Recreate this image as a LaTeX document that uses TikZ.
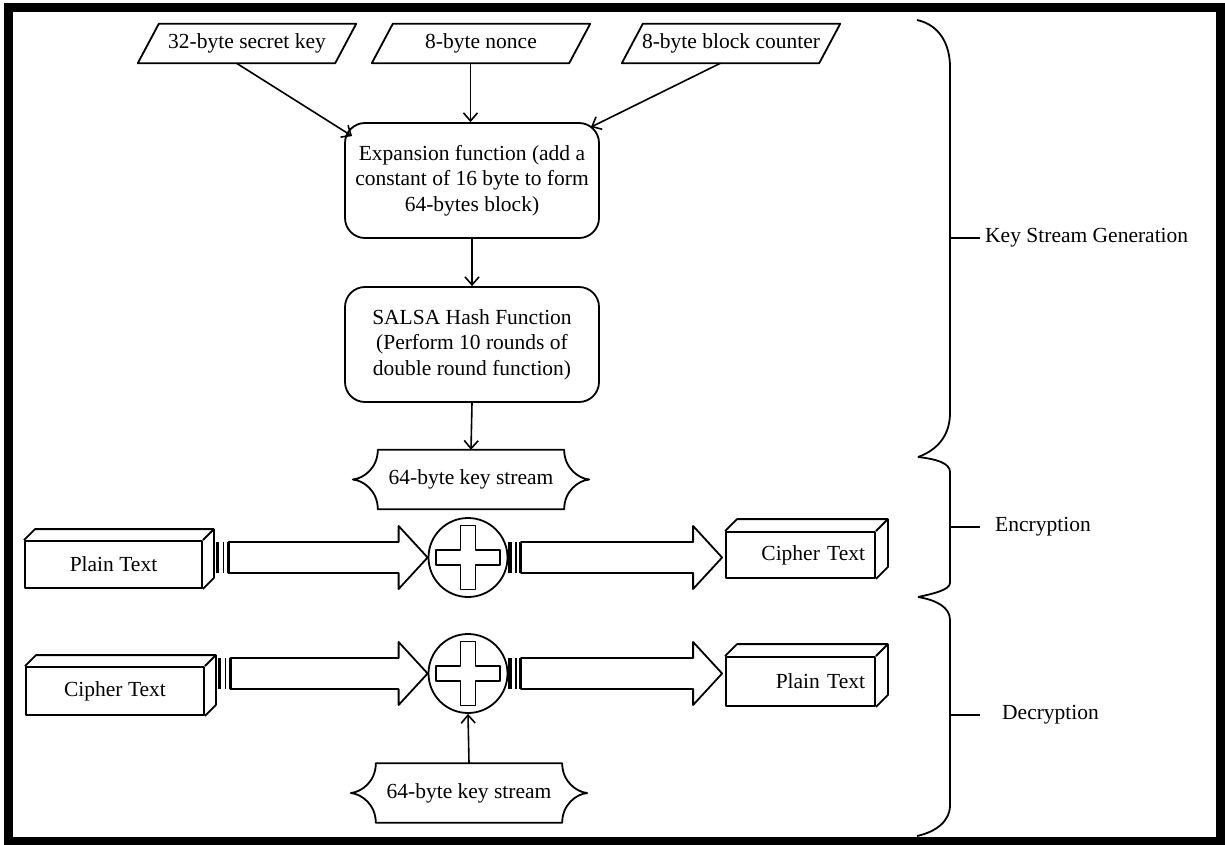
\documentclass[tikz,border=0pt]{standalone}
\usepackage{fontspec}
\setmainfont{Liberation Serif}
\usetikzlibrary{calc,arrows.meta}

\tikzset{
  every node/.style={font=\fontsize{21.5}{25.5}\selectfont},
  shapeline/.style={line width=1.8pt, line join=round},
  conn/.style={line width=1.6pt, -{Straight Barb[length=8pt,width=14pt,line width=1.6pt]}},
  roundbox/.style={shapeline, draw, rounded corners=20pt, minimum width=254pt, minimum height=115pt, align=center, inner sep=0pt},
  paralabel/.style={minimum width=197pt, minimum height=39pt, inner sep=0pt},
  kslabel/.style={minimum width=186pt, minimum height=59pt, inner sep=0pt},
  frontface/.style={shapeline, draw, fill=white, inner sep=0pt},
  xorc/.style={shapeline, draw, circle, minimum size=79pt, inner sep=0pt},
  bracelabel/.style={anchor=west, inner sep=0pt},
  braceline/.style={line width=1.8pt},
}

\newcommand\drawpara[1]{\draw[shapeline] ($(#1.south west)+(-10.5,0)$) -- ($(#1.north west)+(10.5,0)$) -- ($(#1.north east)+(10.5,0)$) -- ($(#1.south east)+(-10.5,0)$) -- cycle;}

\newcommand\drawks[1]{\draw[shapeline] (#1.north west) -- (#1.north east)
  .. controls ($(#1.north east)+(0,18)$) and ($(#1.east)+(14,-1)$) .. ($(#1.east)+(25,0)$)
  .. controls ($(#1.east)+(14,1)$) and ($(#1.south east)+(0,-18)$) .. (#1.south east)
  -- (#1.south west)
  .. controls ($(#1.south west)+(0,-18)$) and ($(#1.west)+(-14,1)$) .. ($(#1.west)+(-25,0)$)
  .. controls ($(#1.west)+(-14,-1)$) and ($(#1.north west)+(0,18)$) .. (#1.north west) -- cycle;}

\newcommand\drawdepth[2]{%
  \draw[shapeline] (#1.north west) -- ($(#1.north west)+(#2,-#2)$) -- ($(#1.north east)+(#2,-#2)$) -- ($(#1.south east)+(#2,-#2)$) -- (#1.south east);
  \draw[shapeline] (#1.north east) -- ($(#1.north east)+(#2,-#2)$);}

\newcommand\xorcross[1]{%
  \begin{scope}[shift={(#1.center)}]
  \draw[shapeline] (-7.5,-32) -- (7.5,-32) -- (7.5,-7.5) -- (32,-7.5) -- (32,7.5) -- (7.5,7.5) -- (7.5,32) -- (-7.5,32) -- (-7.5,7.5) -- (-32,7.5) -- (-32,-7.5) -- (-7.5,-7.5) -- cycle;
  \end{scope}}

\newcommand\blockarr[2]{%
  \fill ($(#1)+(0,-15.5)$) rectangle ($(#1)+(3.5,15.5)$);
  \draw[line width=1.4pt] ($(#1)+(7.5,-15.5)$) -- ($(#1)+(7.5,15.5)$);
  \draw[shapeline] ($(#1)+(12.5,15.5)$) -- ($(#1)+(12.5,-15.5)$) -- ($(#2)+(-29,-15.5)$) -- ($(#2)+(-29,-31.5)$) -- (#2) -- ($(#2)+(-29,31.5)$) -- ($(#2)+(-29,15.5)$) -- cycle;
  \draw[line width=3pt] ($(#1)+(12.5,-15.5)$) -- ($(#1)+(12.5,15.5)$);}

\begin{document}
\begin{tikzpicture}[x=1pt,y=-1pt]
\useasboundingbox (0,0) rectangle (1225,845);
\fill[white] (0,0) rectangle (1225,845);
\draw[line width=9pt] (8,8) rectangle (1220.5,841.5);

% inputs
\node[paralabel] (key) at (247,43.5) {32-byte secret key};
\node[paralabel] (nonce) at (481,43.5) {8-byte nonce};
\node[paralabel] (ctr) at (731,43.5) {8-byte block counter};
\drawpara{key}
\drawpara{nonce}
\drawpara{ctr}

% processing
\node[roundbox] (exp) at (472,180.5) {Expansion function (add a\\constant of 16 byte to form\\64-bytes block)};
\node[roundbox] (salsa) at (472,344.5) {SALSA Hash Function\\(Perform 10 rounds of\\double round function)};
\node[kslabel] (ksE) at (471,479.5) {64-byte key stream};
\drawks{ksE}

\coordinate (kb) at ($(key.south)+(-10.5,0)$);
\coordinate (nb) at ($(nonce.south)+(-10.5,0)$);
\coordinate (cb) at ($(ctr.south)+(-10.5,0)$);
\coordinate (ke) at ($(exp.north west)+(8,14)$);
\coordinate (ce) at ($(exp.north east)+(-9,5)$);
\draw[conn] (kb) -- (ke);
\draw[conn] (nb) -- (nb |- exp.north);
\draw[conn] (cb) -- (ce);
\draw[conn] (exp.south) -- (salsa.north);
\draw[conn] (salsa.south) -- (ksE.north);

% encryption
\node[xorc] (xorE) at (468,557.5) {};
\xorcross{xorE}
\node[frontface, minimum width=177pt, minimum height=47pt] (ptE) at (113.5,564.5) {Plain Text};
\drawdepth{ptE}{11}
\node[frontface, minimum width=149pt, minimum height=46pt, text width=129pt, align=right] (ctE) at (800.5,555) {Cipher Text};
\drawdepth{ctE}{12}
\coordinate (e1t) at ($(ptE.east)+(13,0)$);
\coordinate (e1s) at (e1t |- xorE.west);
\coordinate (e2t) at ($(ctE.west)+(-3,0)$);
\coordinate (e2e) at (e2t |- xorE.east);
\blockarr{e1s}{xorE.west}
\blockarr{xorE.east}{e2e}

% decryption
\node[xorc] (xorD) at (468,673.5) {};
\xorcross{xorD}
\node[frontface, minimum width=178pt, minimum height=48pt] (ctD) at (115,691) {Cipher Text};
\drawdepth{ctD}{11}
\node[frontface, minimum width=149pt, minimum height=49pt, text width=129pt, align=right] (ptD) at (800.5,681.5) {Plain Text};
\drawdepth{ptD}{12}
\coordinate (d1t) at ($(ctD.east)+(13,0)$);
\coordinate (d1s) at (d1t |- xorD.west);
\coordinate (d2t) at ($(ptD.west)+(-3,0)$);
\coordinate (d2e) at (d2t |- xorD.east);
\blockarr{d1s}{xorD.west}
\blockarr{xorD.east}{d2e}
\node[kslabel] (ksD) at (469,793) {64-byte key stream};
\drawks{ksD}
\draw[conn] (ksD.north) -- (xorD.south);

% braces
\draw[braceline] (917,20) .. controls (940,25) and (950,45) .. (950,67) -- (950,413)
  .. controls (950,440) and (932,452) .. (918,457);
\draw[braceline] (918,457) .. controls (936,459) and (950,463) .. (950,472) -- (950,583)
  .. controls (950,590) and (932,594) .. (918,597);
\draw[braceline] (918,597) .. controls (936,600) and (950,607) .. (950,620) -- (950,805)
  .. controls (950,822) and (935,832) .. (917,836);

\coordinate (bk) at (950,238);
\coordinate (be) at (950,527);
\coordinate (bd) at (950,715);
\node[bracelabel] (lk) at (985,238) {Key Stream Generation};
\node[bracelabel] (le) at (995,527) {Encryption};
\node[bracelabel] (ld) at (1002,715) {Decryption};
\draw[braceline] (bk) -- ++(30,0);
\draw[braceline] (be) -- ++(30,0);
\draw[braceline] (bd) -- ++(30,0);
\end{tikzpicture}
\end{document}
